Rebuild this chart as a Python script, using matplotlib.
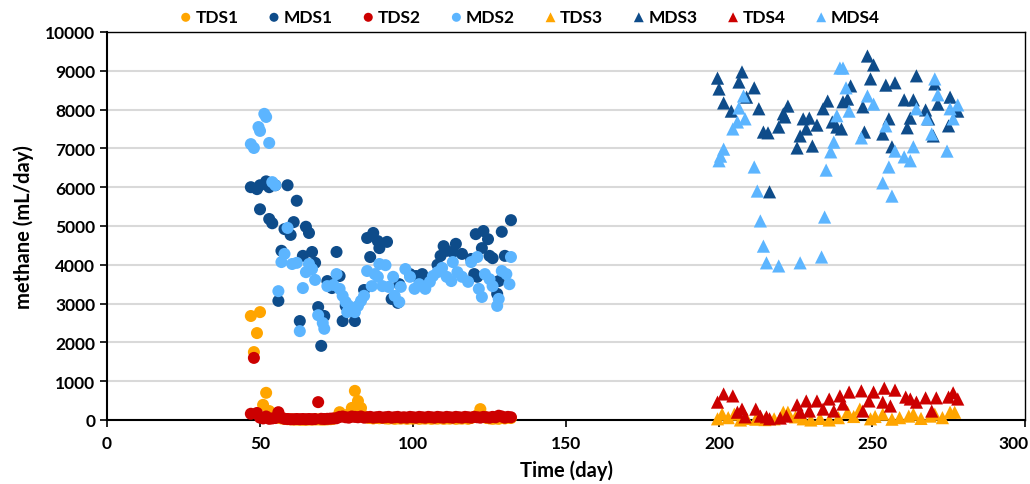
import matplotlib
matplotlib.use("Agg")
import matplotlib.pyplot as plt
from matplotlib.transforms import ScaledTranslation

plt.rcParams['font.family'] = ['Lato', 'DejaVu Sans']
plt.rcParams['font.weight'] = 'bold'

# ---------------- data ----------------
tds1_day = [47, 48, 49, 50, 51, 52, 53, 54, 55, 56, 57, 58, 59, 60, 61, 62, 63, 64, 65, 66,
            67, 68, 69, 70, 71, 72, 73, 74, 75, 76, 77, 78, 79, 80, 81, 82, 83, 84, 85, 86,
            87, 88, 89, 90, 91, 92, 93, 94, 95, 96, 97, 98, 99, 100, 101, 102, 103, 104, 105, 106,
            107, 108, 109, 110, 111, 112, 113, 114, 115, 116, 117, 118, 119, 120, 121, 122, 123, 124, 125, 126,
            127, 128, 129, 130, 131, 132]
tds1_val = [2680, 1750, 2240, 2780, 390, 700, 230, 120, 90, 60, 40, 30, 20, 15, 10, 10, 8, 5, 5, 10,
            10, 12, 15, 10, 10, 15, 20, 30, 60, 200, 120, 90, 150, 310, 750, 490, 310, 100, 60, 50,
            40, 55, 45, 50, 40, 35, 45, 30, 40, 35, 45, 30, 40, 35, 45, 30, 40, 35, 45, 30,
            40, 35, 45, 30, 40, 35, 45, 30, 40, 35, 45, 30, 50, 80, 120, 280, 100, 50, 40, 30,
            40, 30, 50, 40, 60, 50]

tds2_day = [47, 48, 49, 50, 51, 52, 53, 54, 55, 56, 57, 58, 59, 60, 61, 62, 63, 64, 65, 66,
            67, 68, 69, 70, 71, 72, 73, 74, 75, 76, 77, 78, 79, 80, 81, 82, 83, 84, 85, 86,
            87, 88, 89, 90, 91, 92, 93, 94, 95, 96, 97, 98, 99, 100, 101, 102, 103, 104, 105, 106,
            107, 108, 109, 110, 111, 112, 113, 114, 115, 116, 117, 118, 119, 120, 121, 122, 123, 124, 125, 126,
            127, 128, 129, 130, 131, 132]
tds2_val = [160, 1600, 180, 60, 40, 90, 30, 40, 50, 200, 60, 30, 25, 20, 20, 25, 20, 25, 20, 25,
            20, 25, 460, 30, 25, 30, 35, 40, 45, 80, 90, 70, 60, 90, 80, 70, 90, 60, 70, 80,
            60, 70, 80, 60, 70, 80, 60, 70, 80, 60, 70, 60, 80, 70, 60, 80, 70, 60, 80, 70,
            60, 80, 70, 60, 80, 70, 60, 80, 70, 60, 80, 70, 60, 80, 70, 60, 80, 70, 60, 80,
            70, 110, 90, 60, 80, 70]

mds1_day = [47, 49, 50, 52, 53, 55, 59, 50, 53, 54, 62, 61, 58, 60, 65, 66, 57, 64, 67, 68,
            56, 63, 69, 71, 70, 72, 73.5, 75, 76, 77, 81, 78, 79, 84, 85, 87, 88.5, 91.5, 89, 86,
            93, 95, 95.5, 99, 103, 101, 104.5, 108, 109, 110, 111, 114, 116, 113, 119, 120, 120.5, 123, 124.5, 122.5,
            125, 126, 121, 128, 127.5, 129, 130, 132]
mds1_val = [6000, 5950, 6050, 6150, 6000, 6050, 6050, 5430, 5180, 5070, 5650, 5100, 4920, 4770, 4980, 4820, 4360, 4230, 4330, 4050,
            3070, 2550, 2910, 2680, 1910, 3580, 3400, 4330, 3710, 2550, 2550, 2940, 2810, 3350, 4690, 4820, 4610, 4590, 4430, 4200,
            3120, 3020, 3500, 3760, 3760, 3710, 3560, 4000, 4230, 4480, 4360, 4540, 4280, 4330, 4150, 3760, 4790, 4870, 4660, 4430,
            4230, 4170, 3690, 3580, 3250, 4850, 4230, 5150]

mds2_day = [51.4, 52, 49.5, 50, 47, 48, 53, 54, 55, 59, 58, 57, 60.5, 62, 65, 67, 66, 68, 56, 64,
            63, 69, 70.5, 71, 72, 74, 75, 76, 77, 78, 79, 81, 78.5, 82, 83, 84, 85, 86.5, 87.5, 89,
            91, 88.5, 90, 92, 93.5, 94, 95.5, 96, 97.5, 99, 100.5, 102, 104, 105.5, 106.5, 108, 109.5, 111, 112.5, 113,
            114.5, 116, 118, 119, 121, 121.5, 122.5, 123.5, 125, 126, 127.5, 128, 129, 130.5, 131.5, 132]
mds2_val = [7890, 7810, 7550, 7450, 7110, 7010, 7140, 6130, 6050, 4950, 4280, 4070, 4020, 4050, 3810, 3890, 4020, 3610, 3320, 3400,
            2290, 2700, 2500, 2350, 3450, 3480, 3760, 3380, 3200, 3040, 2940, 2780, 2780, 2940, 3070, 3200, 3840, 3450, 3760, 4020,
            3990, 3690, 3450, 3430, 3690, 3200, 3040, 3430, 3890, 3690, 3380, 3500, 3380, 3560, 3710, 3810, 3920, 3690, 3580, 4070,
            3810, 3690, 3560, 4070, 4200, 3380, 3170, 3760, 3630, 3450, 2940, 3120, 3840, 3760, 3500, 4200]

tds3_day = [199.5, 201, 203, 205, 207, 209, 212, 215, 218, 221, 222.5, 225, 227.5, 230, 233, 236, 239, 242, 244, 246,
            249.5, 251, 253.5, 256.5, 259, 262, 263.5, 266, 269, 270.5, 273, 275.5, 277]
tds3_val = [30, 150, 60, 150, 0, 40, 20, 10, 30, 200, 200, 80, 30, 0, 40, 0, 60, 200, 90, 280,
            30, 90, 150, 20, 60, 100, 150, 40, 100, 150, 60, 200, 200]

mds3_day = [199.5, 200, 207.5, 206.5, 201.5, 204, 211.5, 209, 213, 214.5, 216, 216.5, 219.5, 221, 222.5, 221.5, 225.5, 226.5, 227.5, 229.5,
            228.5, 230.5, 232, 234, 235.5, 237, 238.5, 240, 240.5, 242, 243, 247, 247.5, 248.5, 250.5, 249.5, 254.5, 257.5, 255.5, 253.5,
            256.5, 260.5, 263.5, 261.5, 262.5, 264.5, 267.5, 268.5, 270, 270.5, 271.5, 275.5, 275, 278]
mds3_val = [8810, 8530, 8970, 8710, 8170, 7960, 8560, 8320, 8020, 7420, 7400, 5880, 7550, 7890, 8090, 7810, 7010, 7320, 7760, 7780,
            7500, 7060, 7600, 8020, 8220, 7680, 7550, 7500, 8200, 8270, 8610, 8070, 7420, 9380, 9150, 8790, 8630, 8690, 7760, 7370,
            7040, 8250, 8250, 7530, 7780, 8870, 7990, 7760, 7320, 8660, 8140, 8320, 7580, 7960]

tds4_day = [199.5, 201.5, 204.5, 206, 207.5, 208.5, 212, 213.5, 215.5, 216.5, 220, 222, 225.5, 226.5, 228.5, 229.5, 232, 234, 236, 237.5,
            239.5, 240.5, 242.5, 246.5, 247, 249, 250.5, 254, 253.5, 256, 257.5, 261, 262.5, 264.5, 267.5, 269.5, 271, 275, 276.5, 278]
tds4_val = [460, 670, 620, 200, 280, 80, 280, 100, 80, 30, 50, 100, 390, 200, 490, 230, 490, 280, 540, 230,
            620, 410, 720, 750, 230, 490, 720, 820, 460, 360, 770, 590, 540, 460, 570, 230, 570, 590, 700, 540]

mds4_day = [200, 200.5, 201.5, 204.5, 206, 206.5, 208, 208.5, 211.5, 212.5, 213.5, 214.5, 215.5, 219.5, 226.5, 233.5, 234.5, 235, 236.5, 237.5,
            238.5, 239.5, 240.5, 241.5, 242.5, 246.5, 248.5, 250.5, 255.5, 253.5, 256.5, 254.5, 257.5, 260.5, 262.5, 263.5, 264.5, 268, 269.5, 270.5,
            271.5, 274.5, 275.5, 276.5, 278]
mds4_val = [6680, 6800, 6980, 7500, 7680, 8040, 8350, 7760, 6520, 5900, 5130, 4480, 4050, 3970, 4050, 4200, 5230, 6440, 6910, 7160,
            7840, 9070, 9070, 8560, 7960, 7270, 8350, 8140, 6520, 6110, 5770, 7580, 6930, 6780, 6680, 7040, 8020, 7760, 7370, 8790,
            8380, 6930, 8020, 7760, 8120]

labels = ['TDS1', 'MDS1', 'TDS2', 'MDS2', 'TDS3', 'MDS3', 'TDS4', 'MDS4']
x_ticks = [0, 50, 100, 150, 200, 250, 300]
y_ticks = [0, 1000, 2000, 3000, 4000, 5000, 6000, 7000, 8000, 9000, 10000]

# ---------------- style ----------------
ORANGE = '#FFA500'
DARK = '#0E4C8A'
RED = '#CC0000'
LIGHT = '#5CB5FF'

fig = plt.figure(figsize=(10.3, 4.85), dpi=100)
ax = fig.add_axes([0.1039, 0.132, 0.8913, 0.800])

series = [
    (tds1_day, tds1_val, ORANGE, 'o'),
    (mds1_day, mds1_val, DARK, 'o'),
    (tds2_day, tds2_val, RED, 'o'),
    (mds2_day, mds2_val, LIGHT, 'o'),
    (tds3_day, tds3_val, ORANGE, '^'),
    (mds3_day, mds3_val, DARK, '^'),
    (tds4_day, tds4_val, RED, '^'),
    (mds4_day, mds4_val, LIGHT, '^'),
]
for (xs, ys, c, m), lab in zip(series, labels):
    s = 75 if m == 'o' else 90
    ax.scatter(xs, ys, s=s, c=c, marker=m, edgecolors='none', label=lab, zorder=3, clip_on=False)

ax.set_xlim(0, 300)
ax.set_ylim(0, 10000)
ax.set_xticks(x_ticks)
ax.set_yticks(y_ticks)
ax.tick_params(axis='both', labelsize=12.5, direction='out', length=5, width=1.2, color='black')
ax.tick_params(axis='x', pad=6)
for lab in ax.get_xticklabels() + ax.get_yticklabels():
    lab.set_fontweight('bold')
last = ax.get_xticklabels()[-1]
last.set_transform(last.get_transform() + ScaledTranslation(-12 / 100, 0, fig.dpi_scale_trans))

ax.yaxis.grid(True, color='#D9D9D9', linewidth=1.5, zorder=0)
ax.set_axisbelow(True)
for sp in ax.spines.values():
    sp.set_color('black')
    sp.set_linewidth(1.0)
ax.spines['left'].set_linewidth(1.5)
ax.spines['bottom'].set_linewidth(1.5)

ax.set_xlabel('Time (day)', fontsize=14.5, fontweight='bold', labelpad=6)
ax.set_ylabel('methane (mL/day)', fontsize=14.5, fontweight='bold', labelpad=8)

leg = ax.legend(loc='center', bbox_to_anchor=(0.459, 1.039), ncol=8, frameon=False,
                fontsize=12.5, handletextpad=0.05, columnspacing=1.55, markerscale=0.75,
                borderaxespad=0, handlelength=1.0)
for t in leg.get_texts():
    t.set_fontweight('bold')

fig.savefig('out.png', dpi=100)
